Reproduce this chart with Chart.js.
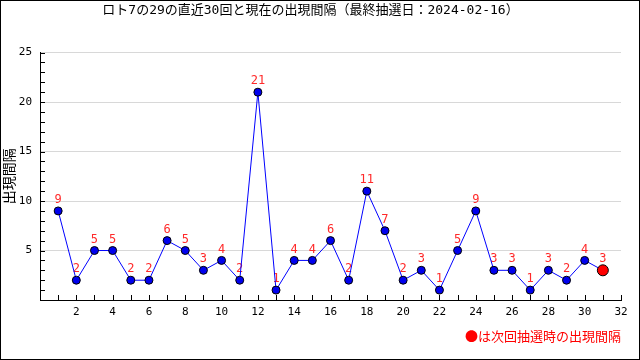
<!DOCTYPE html>
<html><head><meta charset="utf-8">
<script src="https://cdn.jsdelivr.net/npm/chart.js@4"></script>
<style>html,body{margin:0;padding:0;background:#fff}#wrap{width:640px;height:360px}</style>
</head><body><div id="wrap"><canvas id="c" width="640" height="360"></canvas></div>
<script>
const titleText = 'ロト7の29の直近30回と現在の出現間隔（最終抽選日：2024-02-16）';
const yTitle = '出現間隔';
const noteText = '●は次回抽選時の出現間隔';
const draws = [1,2,3,4,5,6,7,8,9,10,11,12,13,14,15,16,17,18,19,20,21,22,23,24,25,26,27,28,29,30,31];
const intervals = [9,2,5,5,2,2,6,5,3,4,2,21,1,4,4,6,2,11,7,2,3,1,5,9,3,3,1,3,2,4,3];
const xMin = 0, xMax = 32, yMin = 0, yMax = 25;

const pts = draws.map((d,i)=>({x:d,y:intervals[i]}));
const last = pts.length-1;
const FONT = "'DejaVu Sans Mono', 'Noto Sans CJK JP', sans-serif";
const CJK = "'Noto Sans CJK JP', sans-serif";

const frame = {
  id:'frame',
  beforeDatasetsDraw(chart){
    const ctx = chart.ctx, meta = chart.getDatasetMeta(0);
    ctx.save();
    ctx.fillStyle = '#ff2a2a';
    ctx.font = "12px " + FONT;
    ctx.textAlign = 'center'; ctx.textBaseline = 'middle';
    meta.data.forEach((p,i)=>{ ctx.fillText(String(intervals[i]), p.x, p.y - 11); });
    ctx.restore();
  },
  afterDraw(chart){
    const ctx = chart.ctx, a = chart.chartArea;
    const xs = chart.scales.x, ys = chart.scales.y;
    ctx.save();
    ctx.strokeStyle = '#000'; ctx.lineWidth = 1;
    ctx.beginPath();
    xs.ticks.forEach(t=>{ if(t.value<=xMin) return; const px = Math.round(xs.getPixelForValue(t.value))+0.5; ctx.moveTo(px, a.bottom); ctx.lineTo(px, a.bottom-5); });
    ys.ticks.forEach(t=>{ if(t.value<=yMin) return; const py = Math.round(ys.getPixelForValue(t.value))+0.5; ctx.moveTo(a.left, py); ctx.lineTo(a.left+5, py); });
    ctx.stroke();
    ctx.strokeRect(0.5,0.5,chart.width-1,chart.height-1);
    ctx.restore();
  }
};

new Chart(document.getElementById('c'), {
  type:'line',
  data:{datasets:[{
    data: pts,
    borderColor:'#0000ff', borderWidth:1, tension:0,
    pointBackgroundColor: pts.map((p,i)=> i===last ? '#ff0000' : '#0000ee'),
    pointBorderColor:'#000', pointBorderWidth:1,
    pointRadius: pts.map((p,i)=> i===last ? 5.5 : 4),
  }]},
  options:{
    responsive:false, animation:false, devicePixelRatio:1,
    layout:{padding:{left:0,right:19,top:0,bottom:0}},
    plugins:{
      legend:{display:false}, tooltip:{enabled:false},
      title:{display:true, text:titleText, color:'#000', font:{family:FONT,size:13,weight:'normal'}, padding:{top:3,bottom:34}}
    },
    scales:{
      x:{type:'linear', min:xMin, max:xMax,
        afterFit(s){ s.height = 60; },
        ticks:{stepSize:1, autoSkip:false, maxRotation:0, padding:6, color:'#000', font:{family:FONT,size:11},
          callback:(v)=> (v>0 && v%2===0) ? String(v) : ''},
        grid:{display:true, drawOnChartArea:false, drawTicks:false},
        border:{display:true, color:'#000', width:1},
        title:{display:true, text:noteText, align:'end', color:'#ff0000', font:{family:CJK,size:13}, padding:{top:0,bottom:16}}
      },
      y:{min:yMin, max:yMax,
        afterFit(s){ s.width = 40; },
        ticks:{stepSize:1, autoSkip:false, padding:8, color:'#000', font:{family:FONT,size:11},
          callback:(v)=> (v>0 && v%5===0) ? String(v) : ''},
        grid:{drawTicks:false, color:(c)=> (c.tick && c.tick.value>0 && c.tick.value%5===0) ? '#d8d8d8' : 'rgba(0,0,0,0)'},
        border:{display:true, color:'#000', width:1},
        title:{display:true, text:yTitle, color:'#000', font:{family:CJK,size:14}, padding:{top:0,bottom:0}}
      }
    }
  },
  plugins:[frame]
});
</script></body></html>
